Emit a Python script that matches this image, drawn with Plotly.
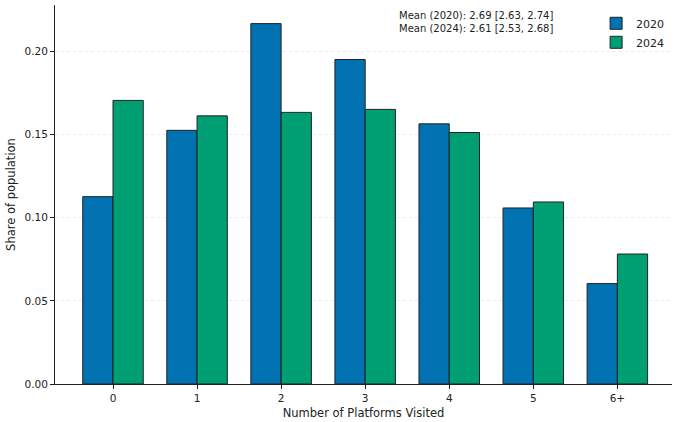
import plotly.graph_objects as go

categories = ["0", "1", "2", "3", "4", "5", "6+"]
share_2020 = [0.1127, 0.1526, 0.2168, 0.1952, 0.1565, 0.1059, 0.0604]
share_2024 = [0.1706, 0.1613, 0.1634, 0.1652, 0.1513, 0.1095, 0.0782]
y_ticks = [0.00, 0.05, 0.10, 0.15, 0.20]
mean_lines = ["Mean (2020): 2.69 [2.63, 2.74]", "Mean (2024): 2.61 [2.53, 2.68]"]

FONT = "DejaVu Sans"
EDGE = "#222222"

fig = go.Figure()
fig.add_trace(go.Bar(x=categories, y=share_2020, name="2020",
                     marker=dict(color="#0072B2", line=dict(color=EDGE, width=1))))
fig.add_trace(go.Bar(x=categories, y=share_2024, name="2024",
                     marker=dict(color="#009E73", line=dict(color=EDGE, width=1))))

fig.update_layout(
    width=675, height=422,
    margin=dict(l=55, r=3, t=5, b=38, autoexpand=False),
    paper_bgcolor="white", plot_bgcolor="white",
    barmode="group", bargap=0.28, bargroupgap=0,
    font=dict(family=FONT, size=10.5, color="#222222"),
    showlegend=True,
    legend=dict(x=0.877, y=0.99, xanchor="left", yanchor="top",
                font=dict(size=11), bgcolor="rgba(0,0,0,0)",
                itemwidth=30, tracegroupgap=0),
    annotations=[dict(text="<br>".join(mean_lines), xref="paper", yref="paper",
                      x=0.555, y=0.993, xanchor="left", yanchor="top",
                      align="left", showarrow=False, font=dict(size=10))],
)

fig.update_xaxes(
    type="category", range=[-0.69, 6.65],
    showline=True, linecolor="#222222", linewidth=1,
    ticks="outside", ticklen=4, tickcolor="#222222",
    tickfont=dict(size=10.5),
    title=dict(text="Number of Platforms Visited", font=dict(size=11.5), standoff=6),
    showgrid=False, zeroline=False,
)
fig.update_yaxes(
    range=[0, 0.228], tickvals=y_ticks, tickformat=".2f",
    showline=True, linecolor="#222222", linewidth=1,
    ticks="outside", ticklen=4, tickcolor="#222222",
    tickfont=dict(size=10.5),
    showgrid=True, gridcolor="#ebebeb", griddash="dot", gridwidth=1,
    zeroline=False,
    title=dict(text="Share of population", font=dict(size=11.5), standoff=6),
)

fig.write_html("out.html")
